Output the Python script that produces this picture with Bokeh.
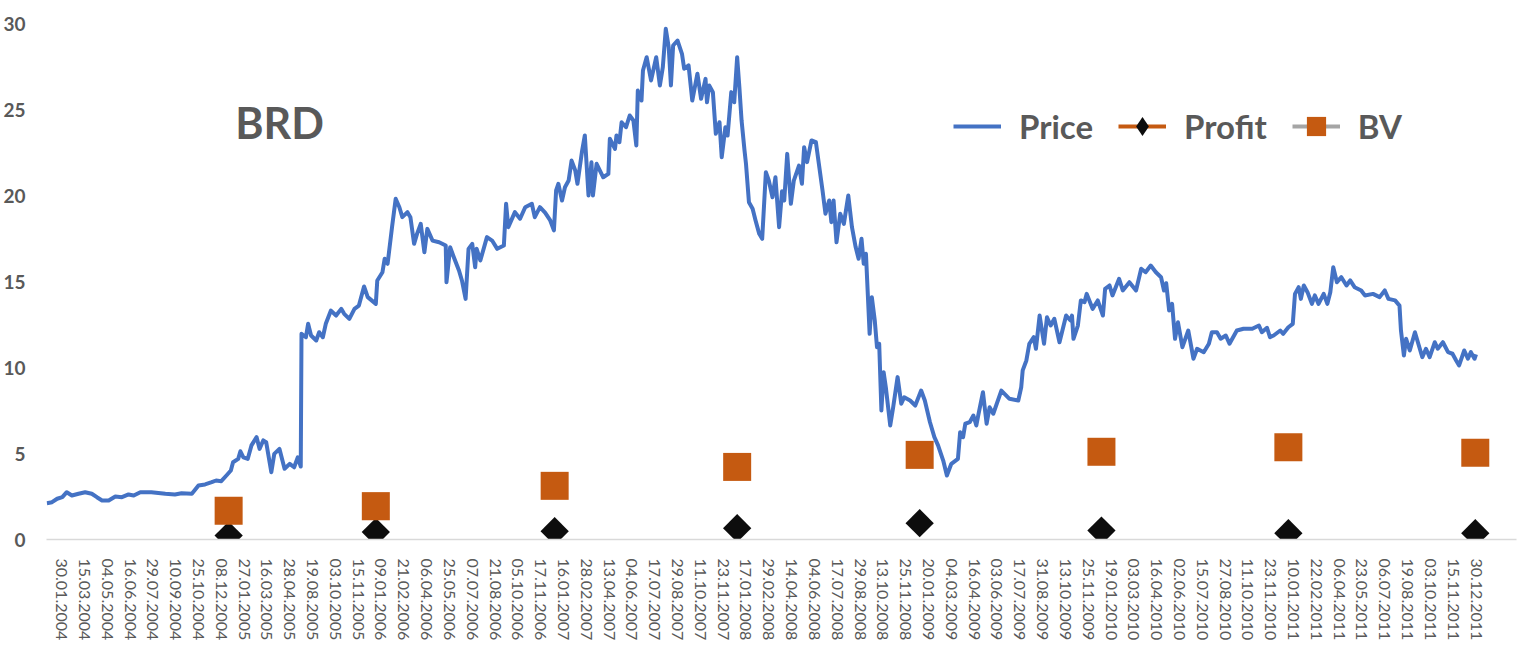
import math
from bokeh.plotting import figure
from bokeh.models import Range1d, FixedTicker, Legend, LegendItem, Label
from bokeh.embed import file_html
from bokeh.resources import INLINE

# ---- data (trading-day index, value) ----
price_day = [
    0, 7, 14, 21, 27, 34, 43, 52, 61, 68,
    75, 84, 93, 102, 111, 118, 127, 142, 161, 174,
    183, 197, 206, 215, 224, 230, 237, 244, 250, 253,
    260, 263, 267, 273, 278, 285, 289, 294, 298, 305,
    309, 316, 323, 330, 336, 341, 345, 346, 352, 355,
    359, 366, 370, 375, 379, 386, 393, 400, 404, 411,
    418, 424, 431, 436, 447, 449, 456, 459, 463, 469,
    474, 479, 483, 490, 494, 499, 503, 508, 513, 517,
    524, 533, 542, 543, 548, 553, 560, 564, 569, 573,
    578, 582, 584, 589, 598, 605, 612, 621, 624, 627,
    636, 643, 650, 659, 663, 670, 677, 684, 689, 692,
    695, 700, 704, 709, 713, 718, 721, 727, 731, 736,
    740, 742, 747, 756, 763, 765, 772, 774, 778, 781,
    787, 792, 797, 801, 803, 808, 810, 815, 821, 828,
    833, 837, 841, 845, 848, 851, 857, 863, 866, 872,
    877, 884, 889, 895, 897, 900, 905, 909, 914, 917,
    922, 925, 930, 934, 938, 941, 944, 948, 950, 954,
    959, 963, 968, 972, 977, 981, 986, 990, 995, 999,
    1002, 1006, 1011, 1015, 1022, 1026, 1029, 1033, 1039, 1045,
    1049, 1054, 1058, 1063, 1066, 1069, 1073, 1078, 1083, 1089,
    1094, 1099, 1103, 1107, 1110, 1113, 1118, 1121, 1125, 1128,
    1131, 1134, 1137, 1140, 1146, 1150, 1156, 1161, 1165, 1173,
    1180, 1188, 1193, 1200, 1206, 1211, 1218, 1223, 1229, 1238,
    1241, 1245, 1248, 1254, 1259, 1263, 1266, 1272, 1277, 1281,
    1286, 1297, 1308, 1320, 1324, 1326, 1331, 1335, 1341, 1344,
    1349, 1355, 1359, 1364, 1369, 1376, 1385, 1391, 1393, 1395,
    1401, 1405, 1410, 1413, 1421, 1428, 1435, 1438, 1444, 1448,
    1457, 1462, 1471, 1480, 1487, 1493, 1500, 1507, 1514, 1518,
    1521, 1525, 1529, 1533, 1537, 1543, 1551, 1558, 1563, 1572,
    1579, 1583, 1590, 1595, 1602, 1607, 1617, 1626, 1638, 1647,
    1651, 1658, 1662, 1667, 1676, 1680, 1687, 1693, 1696, 1701,
    1704, 1708, 1713, 1719, 1723, 1728, 1735, 1740, 1744, 1748,
    1753, 1759, 1766, 1771, 1777, 1786, 1791, 1802, 1811, 1818,
    1823, 1832, 1838, 1840, 1844, 1847, 1852, 1859, 1865, 1869,
    1874, 1879, 1886, 1890, 1897, 1904, 1910, 1915, 1919, 1926,
    1931, 1935, 1940, 1942,
]
price = [
    2.11, 2.17, 2.37, 2.46, 2.75, 2.56, 2.66, 2.75, 2.66, 2.46,
    2.27, 2.27, 2.50, 2.46, 2.62, 2.56, 2.75, 2.75, 2.66, 2.62,
    2.69, 2.66, 3.14, 3.20, 3.33, 3.43, 3.39, 3.72, 4.01, 4.49,
    4.69, 5.13, 4.78, 4.69, 5.47, 5.95, 5.27, 5.76, 5.66, 3.91,
    4.98, 5.27, 4.11, 4.40, 4.20, 4.78, 4.24, 11.96, 11.76, 12.54,
    11.86, 11.57, 12.05, 11.76, 12.54, 13.31, 13.02, 13.41, 13.12, 12.83,
    13.41, 13.60, 14.71, 14.09, 13.70, 15.06, 15.54, 16.32, 16.03, 18.16,
    19.81, 19.32, 18.74, 19.03, 18.74, 17.19, 17.77, 18.35, 16.70, 18.06,
    17.38, 17.28, 17.09, 14.96, 16.99, 16.41, 15.64, 15.06, 13.99, 16.90,
    17.19, 15.83, 16.90, 16.22, 17.58, 17.38, 16.90, 17.09, 19.52, 18.16,
    19.03, 18.65, 19.32, 19.52, 18.74, 19.32, 19.00, 18.55, 17.97, 20.30,
    20.68, 19.71, 20.48, 20.87, 22.03, 21.45, 20.68, 22.52, 23.49, 20.00,
    21.93, 20.00, 21.84, 21.06, 21.26, 23.30, 22.71, 23.49, 23.10, 24.26,
    23.97, 24.65, 24.36, 22.91, 26.10, 25.52, 27.27, 28.04, 26.69, 28.04,
    26.40, 27.46, 29.69, 28.62, 26.40, 28.72, 29.01, 28.24, 27.37, 27.56,
    25.52, 27.08, 25.62, 26.78, 25.42, 26.40, 26.01, 23.59, 24.26, 22.23,
    23.97, 23.49, 26.01, 25.42, 28.04, 26.30, 24.36, 22.62, 21.84, 19.61,
    19.23, 18.55, 17.77, 17.48, 21.35, 20.87, 19.90, 21.06, 18.16, 20.25,
    19.71, 22.42, 19.52, 20.87, 21.74, 20.68, 22.81, 21.94, 23.20, 23.10,
    21.84, 20.29, 18.94, 19.71, 18.45, 19.71, 17.28, 18.94, 18.35, 20.00,
    18.16, 17.00, 16.32, 17.48, 16.03, 16.61, 11.96, 14.09, 12.73, 11.18,
    11.38, 7.50, 9.73, 8.85, 6.63, 7.69, 9.44, 7.89, 8.27, 8.08,
    7.79, 8.66, 8.08, 6.82, 5.95, 5.47, 4.59, 3.72, 4.40, 4.69,
    6.24, 5.95, 6.73, 6.82, 7.21, 6.63, 7.31, 8.56, 6.73, 7.69,
    7.31, 8.66, 8.18, 8.08, 8.85, 9.83, 10.41, 11.38, 11.76, 11.09,
    13.02, 11.38, 12.92, 12.44, 12.83, 11.47, 13.02, 12.73, 13.02, 11.67,
    12.44, 13.90, 13.80, 14.28, 13.41, 13.90, 13.02, 14.57, 14.77, 14.19,
    15.16, 14.48, 14.96, 14.48, 15.74, 15.54, 15.93, 15.54, 15.25, 14.48,
    14.90, 13.31, 13.70, 11.67, 12.63, 11.18, 12.15, 10.51, 11.09, 10.89,
    11.38, 12.05, 12.05, 11.67, 11.86, 11.38, 12.15, 12.25, 12.25, 12.44,
    12.05, 12.31, 11.76, 11.86, 12.15, 11.96, 12.34, 12.54, 14.28, 14.67,
    13.99, 14.77, 14.38, 13.70, 14.19, 13.70, 14.28, 13.70, 14.38, 15.83,
    14.96, 15.25, 14.77, 15.06, 14.67, 14.48, 14.19, 14.28, 14.09, 14.48,
    13.99, 13.90, 13.60, 12.15, 10.70, 11.67, 10.99, 12.05, 11.18, 10.60,
    11.09, 10.60, 11.47, 11.09, 11.47, 10.89, 10.80, 10.41, 10.12, 10.99,
    10.51, 10.89, 10.51, 10.76,
]

report_day = [247, 447, 690, 938, 1186, 1433, 1687, 1941]
profit = [0.23, 0.43, 0.48, 0.66, 0.95, 0.52, 0.37, 0.37]
bv = [1.67, 1.94, 3.12, 4.22, 4.92, 5.10, 5.37, 5.04]

tick_labels = [
    "30.01.2004", "15.03.2004", "04.05.2004", "16.06.2004", "29.07.2004",
    "10.09.2004", "25.10.2004", "08.12.2004", "27.01.2005", "16.03.2005",
    "28.04.2005", "19.08.2005", "03.10.2005", "15.11.2005", "09.01.2006",
    "21.02.2006", "06.04.2006", "25.05.2006", "07.07.2006", "21.08.2006",
    "05.10.2006", "17.11.2006", "16.01.2007", "28.02.2007", "13.04.2007",
    "04.06.2007", "17.07.2007", "29.08.2007", "11.10.2007", "23.11.2007",
    "17.01.2008", "29.02.2008", "14.04.2008", "04.06.2008", "17.07.2008",
    "29.08.2008", "13.10.2008", "25.11.2008", "20.01.2009", "04.03.2009",
    "16.04.2009", "03.06.2009", "17.07.2009", "31.08.2009", "13.10.2009",
    "25.11.2009", "19.01.2010", "03.03.2010", "16.04.2010", "02.06.2010",
    "15.07.2010", "27.08.2010", "11.10.2010", "23.11.2010", "10.01.2011",
    "22.02.2011", "06.04.2011", "23.05.2011", "06.07.2011", "19.08.2011",
    "03.10.2011", "15.11.2011", "30.12.2011",
]
first_label_day = 20
label_interval = 31
y_ticks = [0, 5, 10, 15, 20, 25, 30]

assert len(price_day) == len(price)

tick_days = [first_label_day + label_interval * i for i in range(len(tick_labels))]

GREY = "#595959"
FONT = "Lato"

p = figure(width=1518, height=647, output_backend="svg", toolbar_location=None,
           x_range=Range1d(-0.5, 1997), y_range=Range1d(0, 30),
           min_border_left=40, min_border_right=2, min_border_top=23,
           min_border_bottom=108)
p.background_fill_color = "white"
p.border_fill_color = "white"
p.outline_line_color = None
p.grid.visible = False

xa = p.xaxis[0]
xa.ticker = FixedTicker(ticks=tick_days)
xa.major_label_overrides = {d: s for d, s in zip(tick_days, tick_labels)}
xa.axis_line_color = "#D9D9D9"
xa.axis_line_width = 1.5
xa.major_tick_line_color = None
xa.minor_tick_line_color = None
xa.major_label_orientation = "vertical"
xa.major_label_standoff = 13
xa.major_label_text_font = FONT
xa.major_label_text_font_size = "16px"
xa.major_label_text_color = GREY

ya = p.yaxis[0]
ya.ticker = FixedTicker(ticks=y_ticks)
ya.axis_line_color = None
ya.major_tick_line_color = None
ya.minor_tick_line_color = None
ya.major_label_standoff = 15
ya.major_label_text_font = FONT
ya.major_label_text_font_style = "bold"
ya.major_label_text_font_size = "19px"
ya.major_label_text_color = GREY

price_r = p.line(price_day, price, line_color="#4472C4", line_width=4,
                 line_join="round")
profit_r = p.scatter(report_day, profit, marker="square", angle=math.pi / 4,
                     size=20, fill_color="#0D0D0D", line_color=None)
bv_r = p.scatter(report_day, bv, marker="square", size=28,
                 fill_color="#C55A11", line_color=None)

nan = float("nan")
profit_line = p.line([nan, nan], [nan, nan], line_color="#C55A11", line_width=4)
profit_mark = p.scatter([nan], [nan], marker="diamond", fill_color="#0D0D0D",
                        line_color=None)
bv_line = p.line([nan, nan], [nan, nan], line_color="#A5A5A5", line_width=4)

legend = Legend(
    items=[LegendItem(label="Price", renderers=[price_r]),
           LegendItem(label="Profit", renderers=[profit_line, profit_mark]),
           LegendItem(label="BV", renderers=[bv_line, bv_r])],
    orientation="horizontal", location=(907, 389),
    glyph_width=48, glyph_height=48, label_height=48,
    label_standoff=18, spacing=25, padding=0, margin=0,
    border_line_color=None, background_fill_alpha=0,
    label_text_font=FONT, label_text_font_style="bold",
    label_text_font_size="33px", label_text_color=GREY,
)
p.add_layout(legend)

p.add_layout(Label(x=256, y=24.24, text="BRD", text_font=FONT,
                   text_font_style="bold", text_font_size="43px",
                   text_color=GREY, text_baseline="alphabetic"))

open("out.html", "w").write(file_html(p, INLINE))
